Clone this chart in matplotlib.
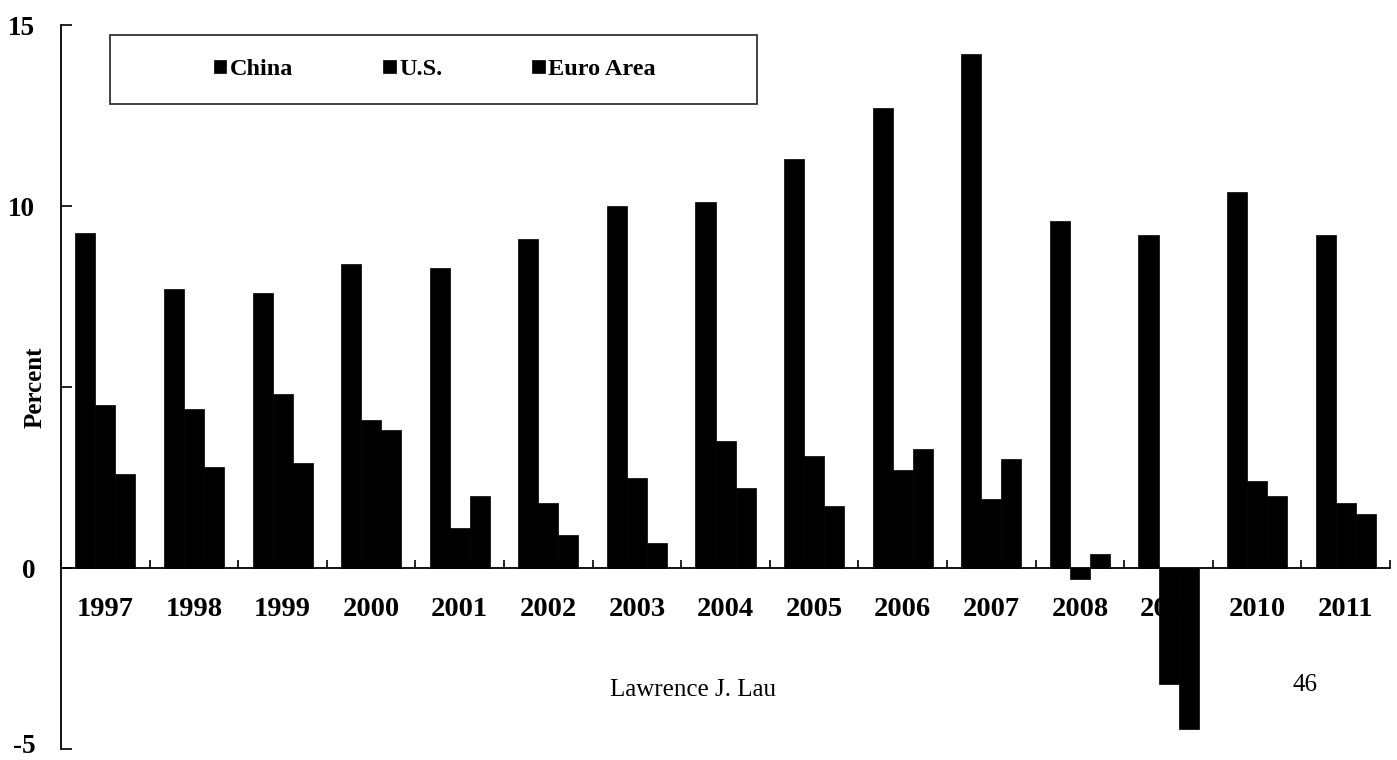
import matplotlib
matplotlib.use("Agg")
import matplotlib.pyplot as plt
import matplotlib.transforms as mtransforms
import numpy as np
from matplotlib.patches import Rectangle

# --- DONNEES (croissance du PIB réel, en %)
years = ["1997", "1998", "1999", "2000", "2001", "2002", "2003", "2004",
         "2005", "2006", "2007", "2008", "2009", "2010", "2011"]
china = [9.25, 7.7, 7.6, 8.4, 8.3, 9.1, 10.0, 10.1, 11.3, 12.7, 14.2, 9.6, 9.2, 10.4, 9.2]
us = [4.5, 4.4, 4.8, 4.1, 1.1, 1.8, 2.5, 3.5, 3.1, 2.7, 1.9, -0.3, -3.2, 2.4, 1.8]
euro = [2.6, 2.8, 2.9, 3.8, 2.0, 0.9, 0.7, 2.2, 1.7, 3.3, 3.0, 0.4, -4.45, 2.0, 1.5]
series_names = ["China", "U.S.", "Euro Area"]
y_ticks = [-5, 0, 5, 10, 15]
y_ticklabels = ["-5", "0", "", "10", "15"]

SERIF = "Liberation Serif"


def main():
    fig = plt.figure(figsize=(13.97, 7.6), dpi=100)
    ax = fig.add_axes([0.0437, 0.0145, 0.9513, 0.9525])

    x = np.arange(len(years))
    w = 0.226
    for k, vals in enumerate([china, us, euro]):
        ax.bar(x + (k - 1) * w, vals, w, color="black", edgecolor="black",
               linewidth=0.5, label=series_names[k], zorder=3)

    ax.set_xlim(-0.5, len(years) - 0.5)
    ax.set_ylim(-5, 15)

    # --- AXES
    for s in ["top", "right"]:
        ax.spines[s].set_visible(False)
    ax.spines["bottom"].set_position(("data", 0))
    ax.spines["bottom"].set_linewidth(1.3)
    ax.spines["left"].set_linewidth(1.3)

    ax.set_yticks(y_ticks)
    ax.set_yticklabels(y_ticklabels, fontfamily=SERIF, fontweight="bold", fontsize=19.5)
    ax.tick_params(axis="y", direction="in", length=8, width=1.2, pad=18.5)
    # le "-5" touche le bord bas : on le remonte de quelques pixels
    lab = ax.get_yticklabels()[0]
    lab.set_transform(lab.get_transform() +
                      mtransforms.ScaledTranslation(0, 5 / 100, fig.dpi_scale_trans))

    # graduations aux frontières, étiquettes au centre
    ax.set_xticks(np.arange(len(years) + 1) - 0.5)
    ax.set_xticklabels([])
    ax.tick_params(axis="x", which="major", direction="in", length=6, width=1.2)
    ax.set_xticks(x, minor=True)
    ax.set_xticklabels(years, minor=True, fontfamily=SERIF, fontweight="bold", fontsize=20.5)
    ax.tick_params(axis="x", which="minor", length=0, pad=21)

    # --- LEGENDE
    ax.add_patch(Rectangle((0.0369, 0.891), 0.4868, 0.095, transform=ax.transAxes,
                           fill=False, edgecolor="#333333", linewidth=1.3,
                           clip_on=False, zorder=4))
    ax.legend(loc="center", bbox_to_anchor=(0.2814, 0.9385), ncol=3, frameon=False,
              prop={"family": SERIF, "weight": "bold", "size": 17.5},
              handlelength=0.5, handleheight=0.5, handletextpad=0.15,
              columnspacing=3.7)

    fig.text(0.025, 0.491, "Percent", rotation=90, ha="center", va="center",
             fontfamily=SERIF, fontweight="bold", fontsize=18)
    fig.text(0.496, 0.092, "Lawrence J. Lau", ha="center", va="center",
             fontfamily=SERIF, fontsize=18)
    fig.text(0.934, 0.099, "46", ha="center", va="center",
             fontfamily=SERIF, fontsize=18)

    fig.savefig("out.png", dpi=100)


if __name__ == "__main__":
    main()
